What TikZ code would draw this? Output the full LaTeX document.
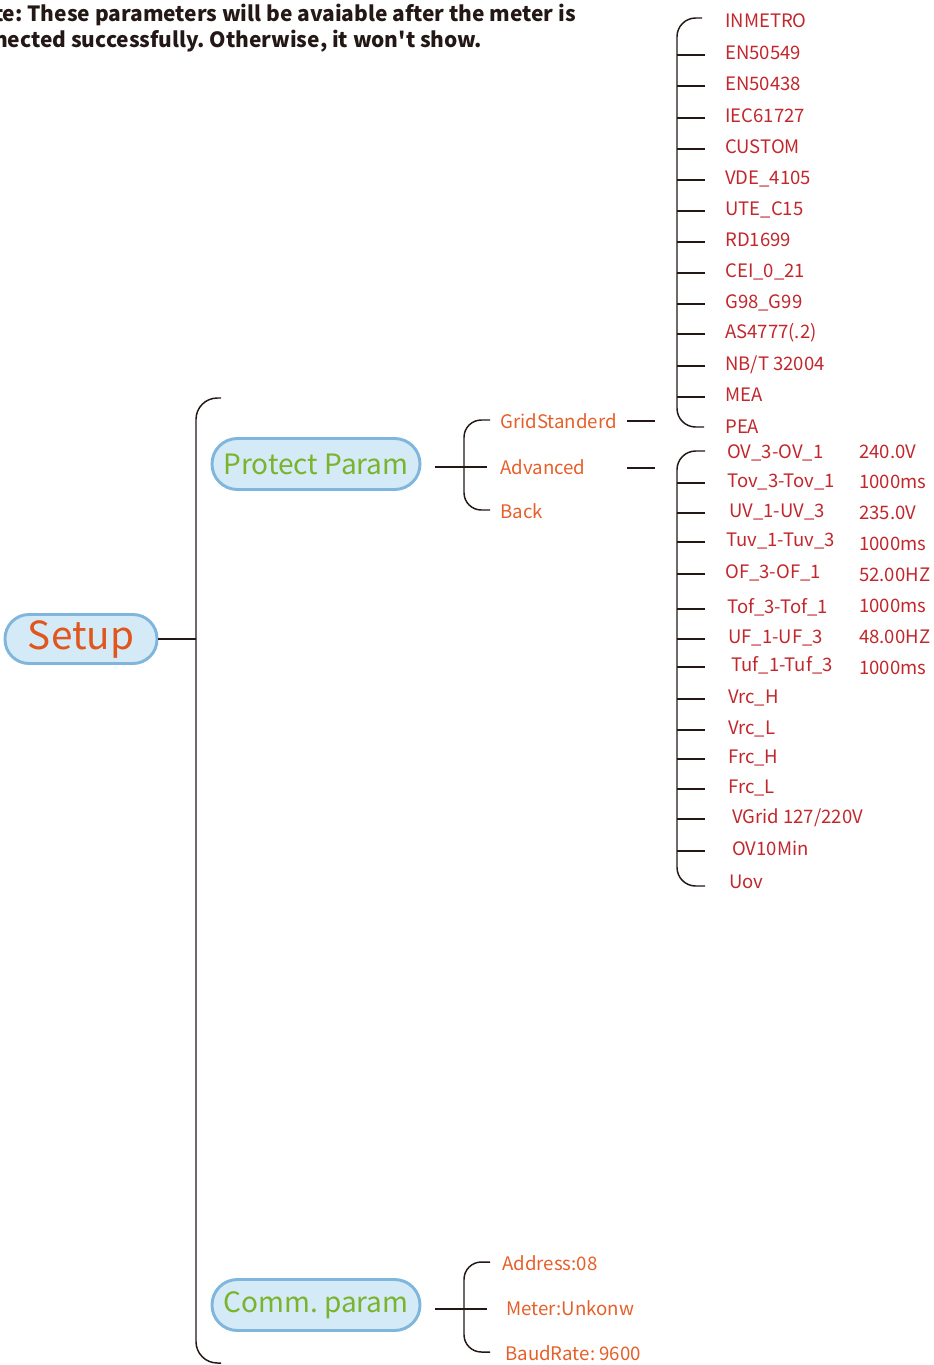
\documentclass[tikz,border=0pt]{standalone}
\usepackage{fontspec}
\setmainfont{Noto Sans CJK SC}
\setmonofont{Noto Sans CJK SC}
\usetikzlibrary{calc}
\definecolor{lnc}{HTML}{231815}
\definecolor{redc}{HTML}{C1272D}
\definecolor{orng}{HTML}{E65F2A}
\definecolor{setupc}{HTML}{E0561C}
\definecolor{grn}{HTML}{7AB42C}
\definecolor{pillf}{HTML}{D4EAF7}
\definecolor{pillb}{HTML}{80B5DC}
\frenchspacing
\tikzset{
  conn/.style={draw=lnc, line width=1.1pt},
  pill/.style={draw=pillb, line width=2.2pt, fill=pillf, inner sep=0pt},
  txt/.style={anchor=west, inner sep=0pt, text height=0.73em, text depth=0pt, yshift=-2.25pt},
  lvltwo/.style={txt, text=orng, font=\fontsize{14}{17}\selectfont},
  lvlthree/.style={txt, text=redc, font=\fontsize{13.9}{17}\selectfont},
  notetxt/.style={anchor=east, inner sep=0pt, text height=0.73em, text depth=0pt, yshift=-2.25pt, text=lnc, font=\bfseries\fontsize{15.7}{18}\selectfont},
}
\begin{document}
\begin{tikzpicture}[x=0.75pt,y=-0.75pt]
\useasboundingbox (0,0) rectangle (933,1365);
% note
\node[notetxt] (n1) at (576,14) {Note: These parameters will be avaiable after the meter is};
\node[notetxt] (n2) at (482,40) {connected successfully. Otherwise, it won{\ttfamily '}t show.};
% main nodes
\node[pill, minimum width=114pt, minimum height=36.75pt, rounded corners=18pt, text=setupc, font=\fontsize{29}{32}\selectfont] (setup) at (81,639) {Setup};
\node[pill, minimum width=156pt, minimum height=38.25pt, rounded corners=19pt, text=grn, font=\fontsize{21}{26}\selectfont] (pp) at (316,464) {Protect Param};
\node[pill, minimum width=156pt, minimum height=38.25pt, rounded corners=19pt, text=grn, font=\fontsize{21}{26}\selectfont] (cp) at (316,1305) {Comm. param};
% big bracket
\coordinate (bbTop) at (221,398);
\coordinate (bbBot) at (221,1363);
\coordinate (bbMid) at (196,639);
\draw[conn, rounded corners=16pt] (bbTop) -| (bbMid) |- (bbBot);
\draw[conn] (setup.east) -- (bbMid);
% protect param children
\node[lvltwo] (grid) at (500,421) {GridStanderd};
\node[lvltwo] (adv) at (500,467) {Advanced};
\node[lvltwo] (back) at (500,511) {Back};
\coordinate (ppo) at ([xshift=10pt]pp.east);
\coordinate (ppsp) at (464,467);
\coordinate (ppTop) at (490,420);
\coordinate (ppBot) at (490,510);
\coordinate (ppTick) at (487,467);
\draw[conn, rounded corners=13pt] (ppTop) -| (ppsp) |- (ppBot);
\draw[conn] (ppo |- ppsp) -- (ppTick);
\coordinate (gtA) at (627,421); \coordinate (gtB) at (655,421);
\coordinate (atA) at (627,468); \coordinate (atB) at (655,468);
\draw[conn] (gtA) -- (gtB);
\draw[conn] (atA) -- (atB);
% grid standard list
\coordinate (spa) at (677,200);
\foreach \n/\y/\t in {a1/20/{INMETRO}, a2/52/{EN50549}, a3/83/{EN50438}, a4/115/{IEC61727}, a5/146/{CUSTOM}, a6/177/{VDE\_4105}, a7/208/{UTE\_C15}, a8/239/{RD1699}, a9/270/{CEI\_0\_21}, a10/301/{G98\_G99}, a11/331/{AS4777(.2)}, a12/363/{NB{/}T 32004}, a13/394/{MEA}, a14/426/{PEA}}{
  \node[lvlthree] (\n) at (725,\y) {\t};
}
\coordinate (aTop) at (702,18);
\coordinate (aBot) at (704,427);
\draw[conn, rounded corners=14pt] (aTop) -| (spa) |- (aBot);
\foreach \n in {a2,a3,a4,a5,a6,a7,a8,a9,a10,a11,a12,a13}{
  \draw[conn] (spa |- \n.west) -- ++(28,0);
}
% advanced list
\coordinate (spb) at (677,660);
\foreach \n/\x/\y/\t in {b1/727/451/{OV\_3-OV\_1}, b2/727/480/{Tov\_3-Tov\_1}, b3/729/510/{UV\_1-UV\_3}, b4/726/539/{Tuv\_1-Tuv\_3}, b5/725/571/{OF\_3-OF\_1}, b6/727/606/{Tof\_3-Tof\_1}, b7/728/636/{UF\_1-UF\_3}, b8/731/664/{Tuf\_1-Tuf\_3}, b9/728/696/{Vrc\_H}, b10/728/727/{Vrc\_L}, b11/728/756/{Frc\_H}, b12/728/786/{Frc\_L}, b13/732/816/{VGrid 127{/}220V}, b14/732/848/{OV10Min}, b15/729/881/{Uov}}{
  \node[lvlthree] (\n) at (\x,\y) {\t};
}
\foreach \n/\y/\t in {v1/451/240.0V, v2/481/1000ms, v3/512/235.0V, v4/543/1000ms, v5/574/52.00HZ, v6/605/1000ms, v7/636/48.00HZ, v8/667/1000ms}{
  \node[lvlthree] (\n) at (859,\y) {\t};
}
\coordinate (bTop) at (705,451);
\coordinate (bBot) at (705,886);
\draw[conn, rounded corners=14pt] (bTop) -| (spb) |- (bBot);
\foreach \n in {b2,b3,b4,b5,b6,b7,b8,b9,b10,b11,b12,b13,b14}{
  \draw[conn] (spb |- \n.west) -- ++(28,0);
}
% comm param children
\node[lvltwo] (addr) at (502,1263) {Address:08};
\node[lvltwo] (meter) at (506,1308) {Meter:Unkonw};
\node[lvltwo] (baud) at (505,1353) {BaudRate: 9600};
\coordinate (cpo) at ([xshift=10pt]cp.east);
\coordinate (cpsp) at (464,1309);
\coordinate (cTop) at (490,1262);
\coordinate (cBot) at (490,1352);
\coordinate (cTick) at (487,1309);
\draw[conn, rounded corners=13pt] (cTop) -| (cpsp) |- (cBot);
\draw[conn] (cpo |- cpsp) -- (cTick);
\end{tikzpicture}
\end{document}
